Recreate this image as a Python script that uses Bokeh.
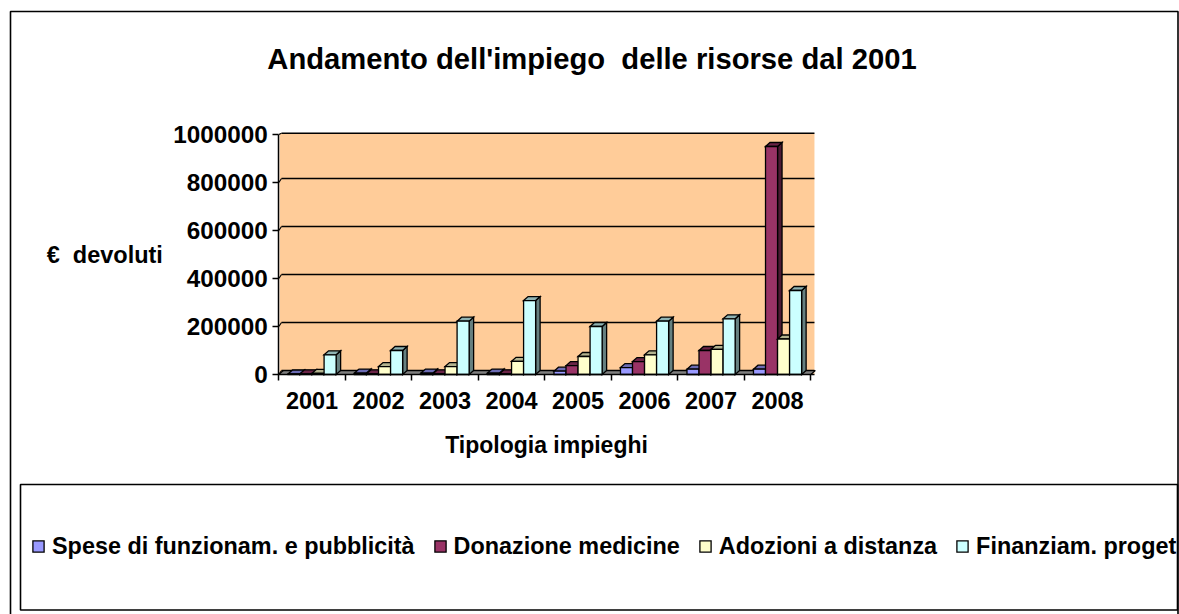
from bokeh.plotting import figure
from bokeh.models import Range1d, FixedTicker, BoxAnnotation, Legend, LegendItem, Label
from bokeh.embed import file_html
from bokeh.resources import INLINE

years = ["2001", "2002", "2003", "2004", "2005", "2006", "2007", "2008"]
spese = [2000, 6000, 6000, 6000, 14000, 29000, 22000, 22000]
donazione = [3000, 3000, 3000, 3000, 37000, 54000, 100000, 950000]
adozioni = [5000, 33000, 33000, 55000, 75000, 82000, 105000, 148000]
progetti = [82000, 100000, 222000, 308000, 200000, 222000, 232000, 350000]
series_names = ["Spese di funzionam. e pubblicità", "Donazione medicine",
                "Adozioni a distanza", "Finanziam. proget"]
y_ticks = [0, 200000, 400000, 600000, 800000, 1000000]

front = ["#9999FF", "#993366", "#FFFFCC", "#CCFFFF"]
top_c = ["#6B6BB3", "#6B2447", "#B3B38F", "#8FB3B3"]
side_c = ["#4D4D80", "#4D1A33", "#808066", "#668080"]

FONT = "Liberation Sans"
W, H = 1179, 614
PXX = 66.5            # px per category
PXY = 0.00024         # px per euro
X0, Y0 = 278.3, 374   # page position of the axes' origin
DX = 4.5 / PXX        # 3-D depth
DY = 4 / PXY
WALL_L = 0.012
WALL_R = 8.055
WALL_T = 1005000
BAR = 0.181
GAP = (1 - 4 * BAR) / 2

p = figure(width=W, height=H, output_backend="svg", toolbar_location=None,
           x_range=Range1d(-X0 / PXX, (W - X0) / PXX),
           y_range=Range1d(-(H - Y0) / PXY, Y0 / PXY),
           min_border=0, background_fill_color="white", border_fill_color="white",
           outline_line_color=None)
p.grid.visible = False

def box(l, r, t, b):
    # t, b given from the top of the page
    p.add_layout(BoxAnnotation(left=l, right=r, top=H - t, bottom=H - b, left_units="screen",
                               right_units="screen", top_units="screen", bottom_units="screen",
                               fill_alpha=0, line_color="black", line_alpha=1, line_width=1.6,
                               level="underlay"))
box(10, 1177.5, 11, 640)
box(20, 1177, 484, 609.5)

# back wall, floor
p.patch([WALL_L, WALL_R, WALL_R, WALL_L], [0, 0, WALL_T, WALL_T], fill_color="#FFCC99", line_color=None)
p.patch([0, 8, 8 + DX, DX], [0, 0, DY, DY], fill_color="#808080", line_color="black", line_width=1.2)

gy = [min(v + DY, WALL_T) for v in y_ticks]
p.segment([DX * 0.6] * 6, gy, [WALL_R] * 6, gy, line_color="black", line_width=1.4)
p.segment([0] * 6, y_ticks, [DX * 0.6] * 6, gy, line_color="black", line_width=1.2)

renderers = []
for s, vals in enumerate([spese, donazione, adozioni, progetti]):
    xl = [i + GAP + s * BAR for i in range(8)]
    xr = [x + BAR for x in xl]
    kw = dict(line_color="black", line_width=1.3, line_join="miter")
    p.patches([[r, r + DX, r + DX, r] for r in xr], [[0, DY, v + DY, v] for v in vals],
              fill_color=side_c[s], **kw)
    p.patches([[l, l + DX, r + DX, r] for l, r in zip(xl, xr)], [[v, v + DY, v + DY, v] for v in vals],
              fill_color=top_c[s], **kw)
    renderers.append(p.patches([[l, r, r, l] for l, r in zip(xl, xr)], [[0, 0, v, v] for v in vals],
                               fill_color=front[s], **kw))

# axes
xa = p.xaxis[0]
xa.fixed_location = 0
xa.bounds = (0, WALL_R)
xa.ticker = FixedTicker(ticks=[i + 0.5 for i in range(8)], minor_ticks=list(range(9)))
xa.major_label_overrides = {i + 0.5: y for i, y in enumerate(years)}
xa.major_tick_line_color = None
xa.minor_tick_out = 6
xa.minor_tick_in = 0
xa.minor_tick_line_width = 1.5
xa.minor_tick_line_color = "black"
xa.axis_line_color = "black"
xa.axis_line_width = 1.5
xa.major_label_text_font = FONT
xa.major_label_text_font_style = "bold"
xa.major_label_text_font_size = "23.5px"
xa.major_label_text_color = "black"
xa.major_label_standoff = 11
xa.axis_label = "Tipologia impieghi"
xa.axis_label_text_font = FONT
xa.axis_label_text_font_style = "bold"
xa.axis_label_text_font_size = "23px"
xa.axis_label_text_color = "black"
xa.axis_label_standoff = 20

ya = p.yaxis[0]
ya.fixed_location = 0
ya.bounds = (0, 1000000)
ya.ticker = FixedTicker(ticks=y_ticks)
ya.minor_tick_line_color = None
ya.major_tick_out = 6
ya.major_tick_in = 0
ya.major_tick_line_width = 1.5
ya.major_tick_line_color = "black"
ya.axis_line_width = 1.5
ya.axis_line_color = "black"
ya.formatter.use_scientific = False
ya.major_label_text_font = FONT
ya.major_label_text_font_style = "bold"
ya.major_label_text_font_size = "24.3px"
ya.major_label_text_color = "black"
ya.major_label_standoff = 5
ya.axis_label = "€\u00a0 devoluti"
ya.axis_label_orientation = "horizontal"
ya.axis_label_text_font = FONT
ya.axis_label_text_font_style = "bold"
ya.axis_label_text_font_size = "23.5px"
ya.axis_label_text_color = "black"
ya.axis_label_standoff = 7

p.add_layout(Label(x=591.5, y=H - 58, x_units="screen", y_units="screen",
                   text="Andamento dell'impiego\u00a0 delle risorse dal 2001", text_align="center",
                   text_baseline="middle", text_font=FONT, text_font_style="bold",
                   text_font_size="29.2px", text_color="black"))

legend = Legend(items=[LegendItem(label=n, renderers=[r]) for n, r in zip(series_names, renderers)],
                orientation="horizontal", location=(31, 54.5), border_line_color=None,
                background_fill_alpha=0, glyph_width=14, glyph_height=14, label_standoff=7,
                spacing=18, padding=0, margin=0, label_text_font=FONT, label_text_font_style="bold",
                label_text_font_size="23.4px", label_text_color="black")
p.add_layout(legend, "center")

open("out.html", "w").write(file_html(p, INLINE))
